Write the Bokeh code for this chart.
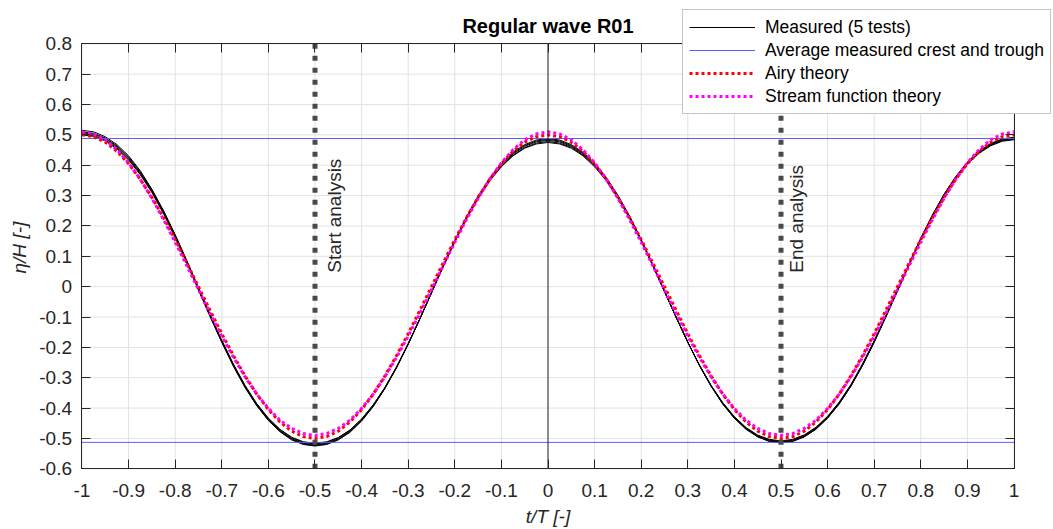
from math import pi
from bokeh.plotting import figure
from bokeh.models import Legend, LegendItem, FixedTicker, LinearAxis, Range1d, Label
from bokeh.core.properties import value
from bokeh.embed import file_html
from bokeh.resources import INLINE

# ---------------- data ----------------
t = [-1.000, -0.975, -0.950, -0.925, -0.900, -0.875, -0.850, -0.825, -0.800, -0.775,
     -0.750, -0.725, -0.700, -0.675, -0.650, -0.625, -0.600, -0.575, -0.550, -0.525,
     -0.500, -0.475, -0.450, -0.425, -0.400, -0.375, -0.350, -0.325, -0.300, -0.275,
     -0.250, -0.225, -0.200, -0.175, -0.150, -0.125, -0.100, -0.075, -0.050, -0.025,
     0.000, 0.025, 0.050, 0.075, 0.100, 0.125, 0.150, 0.175, 0.200, 0.225,
     0.250, 0.275, 0.300, 0.325, 0.350, 0.375, 0.400, 0.425, 0.450, 0.475,
     0.500, 0.525, 0.550, 0.575, 0.600, 0.625, 0.650, 0.675, 0.700, 0.725,
     0.750, 0.775, 0.800, 0.825, 0.850, 0.875, 0.900, 0.925, 0.950, 0.975, 1.000]

measured_1 = [
    0.515, 0.510, 0.494, 0.468, 0.431, 0.382, 0.321, 0.250, 0.171, 0.085, -0.005, -0.095, -0.181, -0.260, -0.331, -0.392, -0.441, -0.478, -0.505, -0.520, -0.525,
    -0.520, -0.505, -0.480, -0.443, -0.395, -0.336, -0.267, -0.190, -0.106, -0.018, 0.069, 0.153, 0.230, 0.299, 0.358, 0.406, 0.443, 0.468, 0.483, 0.488,
    0.483, 0.468, 0.443, 0.407, 0.360, 0.301, 0.233, 0.156, 0.073, -0.014, -0.100, -0.183, -0.260, -0.328, -0.387, -0.434, -0.470, -0.495, -0.510, -0.515,
    -0.510, -0.495, -0.470, -0.433, -0.386, -0.328, -0.259, -0.182, -0.098, -0.012, 0.075, 0.159, 0.236, 0.305, 0.363, 0.410, 0.447, 0.472, 0.487, 0.492]
measured_2 = [
    0.507, 0.502, 0.487, 0.461, 0.424, 0.375, 0.316, 0.246, 0.167, 0.082, -0.007, -0.096, -0.181, -0.260, -0.330, -0.389, -0.438, -0.475, -0.501, -0.516, -0.521,
    -0.516, -0.501, -0.476, -0.440, -0.393, -0.334, -0.266, -0.189, -0.106, -0.020, 0.067, 0.150, 0.227, 0.295, 0.354, 0.401, 0.437, 0.462, 0.477, 0.482,
    0.477, 0.462, 0.437, 0.401, 0.355, 0.297, 0.229, 0.153, 0.071, -0.015, -0.101, -0.183, -0.259, -0.327, -0.385, -0.431, -0.467, -0.492, -0.507, -0.512,
    -0.507, -0.492, -0.467, -0.431, -0.384, -0.326, -0.258, -0.181, -0.098, -0.012, 0.074, 0.157, 0.234, 0.302, 0.360, 0.407, 0.443, 0.468, 0.483, 0.488]
measured_3 = [
    0.503, 0.498, 0.483, 0.457, 0.420, 0.372, 0.313, 0.243, 0.165, 0.080, -0.008, -0.095, -0.180, -0.258, -0.328, -0.387, -0.435, -0.472, -0.498, -0.513, -0.518,
    -0.513, -0.498, -0.473, -0.437, -0.390, -0.333, -0.265, -0.188, -0.106, -0.020, 0.066, 0.148, 0.225, 0.293, 0.350, 0.397, 0.433, 0.458, 0.473, 0.478,
    0.473, 0.459, 0.434, 0.398, 0.351, 0.294, 0.227, 0.151, 0.069, -0.016, -0.101, -0.183, -0.259, -0.326, -0.383, -0.430, -0.466, -0.491, -0.505, -0.510,
    -0.505, -0.490, -0.465, -0.429, -0.382, -0.325, -0.257, -0.180, -0.098, -0.012, 0.074, 0.156, 0.233, 0.301, 0.358, 0.405, 0.441, 0.466, 0.481, 0.486]
measured_4 = [
    0.510, 0.505, 0.490, 0.464, 0.427, 0.379, 0.319, 0.249, 0.170, 0.085, -0.003, -0.091, -0.176, -0.255, -0.325, -0.385, -0.433, -0.470, -0.496, -0.511, -0.516,
    -0.511, -0.497, -0.472, -0.436, -0.389, -0.332, -0.264, -0.188, -0.106, -0.021, 0.065, 0.147, 0.223, 0.291, 0.348, 0.395, 0.431, 0.456, 0.470, 0.475,
    0.470, 0.456, 0.431, 0.395, 0.349, 0.292, 0.225, 0.150, 0.068, -0.017, -0.101, -0.183, -0.258, -0.325, -0.382, -0.428, -0.464, -0.489, -0.503, -0.508,
    -0.503, -0.488, -0.463, -0.427, -0.380, -0.322, -0.254, -0.178, -0.095, -0.009, 0.077, 0.160, 0.236, 0.304, 0.362, 0.409, 0.445, 0.470, 0.485, 0.490]
measured_5 = [
    0.500, 0.495, 0.480, 0.454, 0.417, 0.369, 0.310, 0.240, 0.161, 0.077, -0.012, -0.100, -0.184, -0.263, -0.333, -0.392, -0.440, -0.477, -0.503, -0.518, -0.523,
    -0.518, -0.503, -0.478, -0.441, -0.394, -0.335, -0.267, -0.189, -0.106, -0.019, 0.068, 0.151, 0.229, 0.297, 0.356, 0.403, 0.440, 0.465, 0.480, 0.485,
    0.480, 0.465, 0.440, 0.404, 0.357, 0.299, 0.231, 0.154, 0.072, -0.015, -0.101, -0.183, -0.260, -0.328, -0.386, -0.433, -0.469, -0.494, -0.509, -0.514,
    -0.509, -0.494, -0.469, -0.433, -0.386, -0.328, -0.260, -0.184, -0.101, -0.015, 0.071, 0.154, 0.230, 0.298, 0.356, 0.403, 0.439, 0.464, 0.479, 0.484]

airy = [
    0.500, 0.494, 0.476, 0.446, 0.405, 0.354, 0.294, 0.227, 0.155, 0.078, 0.000, -0.078, -0.155, -0.227, -0.294, -0.354, -0.405, -0.446, -0.476, -0.494, -0.500,
    -0.494, -0.476, -0.446, -0.405, -0.354, -0.294, -0.227, -0.155, -0.078, 0.000, 0.078, 0.155, 0.227, 0.294, 0.354, 0.405, 0.446, 0.476, 0.494, 0.500,
    0.494, 0.476, 0.446, 0.405, 0.354, 0.294, 0.227, 0.155, 0.078, 0.000, -0.078, -0.155, -0.227, -0.294, -0.354, -0.405, -0.446, -0.476, -0.494, -0.500,
    -0.494, -0.476, -0.446, -0.405, -0.354, -0.294, -0.227, -0.155, -0.078, 0.000, 0.078, 0.155, 0.227, 0.294, 0.354, 0.405, 0.446, 0.476, 0.494, 0.500]
stream = [
    0.510, 0.503, 0.484, 0.451, 0.408, 0.354, 0.291, 0.221, 0.146, 0.069, -0.010, -0.088, -0.163, -0.233, -0.297, -0.354, -0.401, -0.440, -0.467, -0.484, -0.490,
    -0.484, -0.467, -0.440, -0.401, -0.354, -0.297, -0.233, -0.163, -0.088, -0.010, 0.069, 0.146, 0.221, 0.291, 0.354, 0.408, 0.451, 0.484, 0.503, 0.510,
    0.503, 0.484, 0.451, 0.408, 0.354, 0.291, 0.221, 0.146, 0.069, -0.010, -0.088, -0.163, -0.233, -0.297, -0.354, -0.401, -0.440, -0.467, -0.484, -0.490,
    -0.484, -0.467, -0.440, -0.401, -0.354, -0.297, -0.233, -0.163, -0.088, -0.010, 0.069, 0.146, 0.221, 0.291, 0.354, 0.408, 0.451, 0.484, 0.503, 0.510]

avg_crest = 0.488
avg_trough = -0.513
analysis_start = -0.5
analysis_end = 0.5

x_ticks = [-1.0, -0.9, -0.8, -0.7, -0.6, -0.5, -0.4, -0.3, -0.2, -0.1, 0.0,
           0.1, 0.2, 0.3, 0.4, 0.5, 0.6, 0.7, 0.8, 0.9, 1.0]
x_tick_labels = ["-1", "-0.9", "-0.8", "-0.7", "-0.6", "-0.5", "-0.4", "-0.3", "-0.2", "-0.1", "0",
                 "0.1", "0.2", "0.3", "0.4", "0.5", "0.6", "0.7", "0.8", "0.9", "1"]
y_ticks = [-0.6, -0.5, -0.4, -0.3, -0.2, -0.1, 0.0, 0.1, 0.2, 0.3, 0.4, 0.5, 0.6, 0.7, 0.8]
y_tick_labels = ["-0.6", "-0.5", "-0.4", "-0.3", "-0.2", "-0.1", "0",
                 "0.1", "0.2", "0.3", "0.4", "0.5", "0.6", "0.7", "0.8"]

for s in (measured_1, measured_2, measured_3, measured_4, measured_5, airy, stream):
    assert len(s) == len(t)

# ---------------- figure ----------------
FONT = "Liberation Sans"
DARK = "#262626"
X0, X1 = x_ticks[0], x_ticks[-1]
Y0, Y1 = y_ticks[0], y_ticks[-1]

# the frame covers the whole canvas; the axes box is drawn with fixed-location axes
p = figure(width=1053, height=529, output_backend="svg", toolbar_location=None,
           x_range=Range1d(-1.17489, 1.08476), y_range=Range1d(-0.79995, 0.94264),
           x_axis_location=None, y_axis_location=None,
           min_border_left=0, min_border_right=0, min_border_top=0, min_border_bottom=0)
p.background_fill_color = "white"
p.border_fill_color = "white"
p.outline_line_color = None
p.xgrid.visible = False
p.ygrid.visible = False

# grid lines at the ticks, inside the axes box
p.segment(x0=x_ticks, y0=[Y0] * len(x_ticks), x1=x_ticks, y1=[Y1] * len(x_ticks),
          line_color="#e2e2e2", line_width=1, level="underlay")
p.segment(x0=[X0] * len(y_ticks), y0=y_ticks, x1=[X1] * len(y_ticks), y1=y_ticks,
          line_color="#e2e2e2", line_width=1, level="underlay")

xt = FixedTicker(ticks=x_ticks)
yt = FixedTicker(ticks=y_ticks)


def make_axis(ticker, fixed, bounds, overrides, standoff):
    return LinearAxis(ticker=ticker, fixed_location=fixed, bounds=bounds,
                      major_tick_in=9, major_tick_out=0,
                      axis_line_color=DARK, major_tick_line_color=DARK,
                      minor_tick_line_color=None,
                      major_label_overrides=overrides,
                      major_label_standoff=standoff,
                      major_label_text_font=FONT,
                      major_label_text_font_size="19px",
                      major_label_text_color=DARK)


p.add_layout(make_axis(xt, Y0, (X0, X1), dict(zip(x_ticks, x_tick_labels)), 15), "below")
p.add_layout(make_axis(yt, X0, (Y0, Y1), dict(zip(y_ticks, y_tick_labels)), 10), "left")
p.add_layout(make_axis(xt, Y1, (X0, X1), {k: "" for k in x_ticks}, 0), "above")
p.add_layout(make_axis(yt, X1, (Y0, Y1), {k: "" for k in y_ticks}, 0), "right")

# ---------------- series ----------------
r_meas = []
for m in (measured_1, measured_2, measured_3, measured_4, measured_5):
    r_meas.append(p.line(t, m, line_color="black", line_width=1))

r_blue = p.line([X0, X1], [avg_crest, avg_crest], line_color="#5c5cff", line_width=1)
p.line([X0, X1], [avg_trough, avg_trough], line_color="#5c5cff", line_width=1)

r_airy = p.line(t, airy, line_color="#ff0000", line_width=3, line_dash="3 3")
r_stream = p.line(t, stream, line_color="#ff00ff", line_width=3, line_dash="3 3")

p.line([0, 0], [Y0, Y1], line_color=DARK, line_width=1)
for loc in (analysis_start, analysis_end):
    p.line([loc, loc], [Y0, Y1], line_color="#4a4a4a", line_width=5, line_dash="5 7")

p.text(x=[-0.458, 0.534], y=[0.046, 0.046],
       text=["Start analysis", "End analysis"], angle=pi / 2,
       text_align="left", text_baseline="alphabetic",
       text_font=value(FONT), text_font_size="19px", text_color=DARK)

# title and axis labels
p.add_layout(Label(x=0, y=0.857, text="Regular wave R01", text_align="center",
                   text_baseline="alphabetic", text_font=FONT,
                   text_font_size="20px", text_font_style="bold", text_color="black"))
p.add_layout(Label(x=0, y=-0.757, text="t/T [-]", text_align="center",
                   text_baseline="alphabetic", text_font=FONT,
                   text_font_size="19px", text_font_style="italic", text_color=DARK))
p.add_layout(Label(x=-1.1341, y=0.0435, text="η/H [-]", angle=pi / 2,
                   text_align="left", text_baseline="alphabetic", text_font=FONT,
                   text_font_size="19px", text_font_style="italic", text_color=DARK))

legend = Legend(items=[
    LegendItem(label="Measured (5 tests)", renderers=[r_meas[0]]),
    LegendItem(label="Average measured crest and trough", renderers=[r_blue]),
    LegendItem(label="Airy theory", renderers=[r_airy]),
    LegendItem(label="Stream function theory", renderers=[r_stream]),
], location=(682, 415))
legend.label_text_font = FONT
legend.label_text_font_size = "17.5px"
legend.label_text_color = "black"
legend.glyph_width = 66
legend.glyph_height = 22
legend.label_height = 22
legend.label_standoff = 10
legend.padding = 6
legend.spacing = 1
legend.margin = 0
legend.border_line_color = "#8c8c8c"
legend.border_line_width = 1
legend.background_fill_color = "white"
legend.background_fill_alpha = 1
p.add_layout(legend, "center")

open("out.html", "w").write(file_html(p, INLINE))
